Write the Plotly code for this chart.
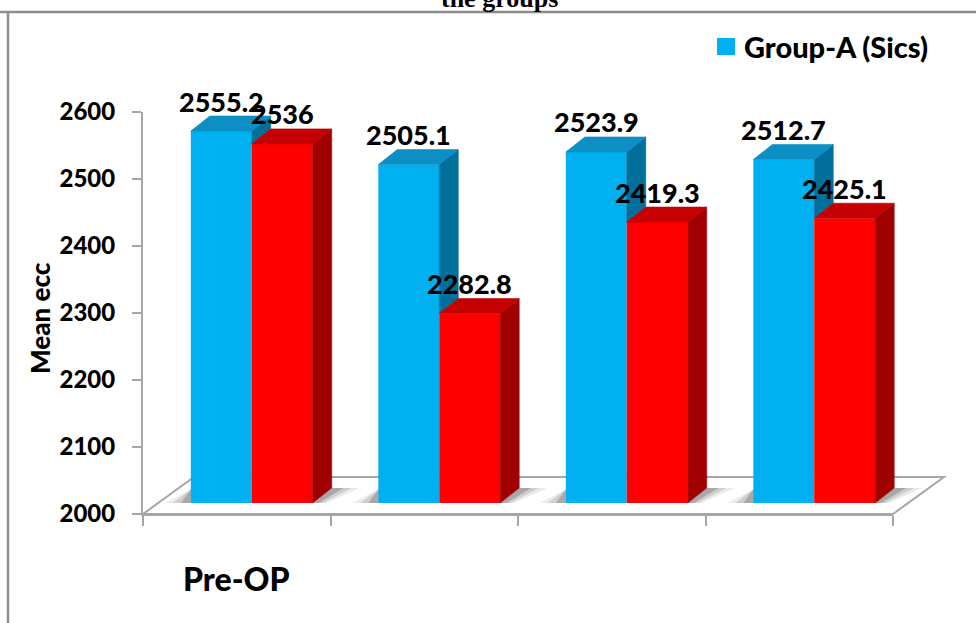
import plotly.graph_objects as go

# ---- data -------------------------------------------------------------
categories = ["Pre-OP", "", "", ""]
group_a = [2555.2, 2505.1, 2523.9, 2512.7]
group_b = [2536.0, 2282.8, 2419.3, 2425.1]
series_names = ["Group-A (Sics)", "Group-B"]
y_ticks = [2000, 2100, 2200, 2300, 2400, 2500, 2600]
title_text = "the groups"
y_title = "Mean ecc"

# ---- palette ----------------------------------------------------------
FACE = {"a": ("#00B0F0", "#0B8FC4", "#006F9C"),   # front, top, side
        "b": ("#FF0000", "#C40000", "#A00000")}
AXIS_GRAY = "#A6A6A6"
FONT = "Lato"
WEIGHT = 900

# ---- page geometry (pixels) -------------------------------------------
W, H = 976, 623
PX_L, PX_R, PX_T, PX_B = 143, 893, 112, 514
Y_MIN, Y_MAX = y_ticks[0], y_ticks[-1]
n = len(categories)
unit_x = (PX_R - PX_L) / n                  # px per category
unit_y = (PX_B - PX_T) / (Y_MAX - Y_MIN)    # px per value unit
SHIFT_X, SHIFT_Y = 15, 11                   # bars sit inside the floor
DEPTH_X, DEPTH_Y = 19, 15                   # bar depth
FLOOR_X, FLOOR_Y = 51, 37                   # floor depth
BAR_TOP_PX = 40
BAR_RIGHT_PX = 970
BARGAP = 0.35
bar_w = (1 - BARGAP) / 2


def fx(px):
    return px / W


def fy(py):
    return 1 - py / H


x2_start = -0.5 - SHIFT_X / unit_x
x2_end = x2_start + (BAR_RIGHT_PX - PX_L) / unit_x
y2_start = Y_MIN - SHIFT_Y / unit_y
y2_end = y2_start + (PX_B - BAR_TOP_PX) / unit_y
dx = DEPTH_X / unit_x
dy = DEPTH_Y / unit_y

fig = go.Figure()

# soft shadows on the floor
for i in range(n):
    xl = i - bar_w
    xr = i + bar_w
    for k, op in enumerate([0.08, 0.12, 0.18]):
        ext = (28 - 8 * k) / unit_x
        fig.add_trace(go.Scatter(
            x=[xr, xr + dx, xr + dx + ext, xr + ext * 0.5, xr],
            y=[Y_MIN, Y_MIN + dy, Y_MIN + dy, Y_MIN, Y_MIN],
            xaxis="x2", yaxis="y2", mode="lines", fill="toself",
            fillcolor=f"rgba(0,0,0,{op})", line=dict(width=0),
            hoverinfo="skip", showlegend=False))
        lext = (26 - 8 * k) / unit_x
        fig.add_trace(go.Scatter(
            x=[xl - lext, xl, xl, xl - lext],
            y=[Y_MIN, Y_MIN, Y_MIN + dy * 0.9, Y_MIN],
            xaxis="x2", yaxis="y2", mode="lines", fill="toself",
            fillcolor=f"rgba(0,0,0,{op})", line=dict(width=0),
            hoverinfo="skip", showlegend=False))

# front faces of the bars
for key, vals, name in (("a", group_a, series_names[0]),
                        ("b", group_b, series_names[1])):
    fig.add_trace(go.Bar(
        x=list(range(n)), y=[v - Y_MIN for v in vals], base=Y_MIN,
        name=name, marker=dict(color=FACE[key][0], line=dict(width=0)),
        xaxis="x2", yaxis="y2", showlegend=False,
        hovertemplate="%{customdata}<extra>" + name + "</extra>",
        customdata=vals))


def poly(xs, ys, color):
    fig.add_trace(go.Scatter(
        x=xs + [xs[0]], y=ys + [ys[0]], xaxis="x2", yaxis="y2",
        mode="lines", fill="toself", fillcolor=color,
        line=dict(width=0.6, color=color), hoverinfo="skip",
        showlegend=False))


# top and side faces, drawn back to front
for i in range(n):
    va, vb = group_a[i], group_b[i]
    # group A (left bar): its side is partly hidden by bar B
    xl, xr = i - bar_w, i
    low = max(Y_MIN, min(va, vb))
    poly([xr, xr, xr + dx, xr + dx], [low, va, va + dy, low + dy], FACE["a"][2])
    poly([xl, xr, xr + dx, xl + dx], [va, va, va + dy, va + dy], FACE["a"][1])
    # group B (right bar)
    xl, xr = i, i + bar_w
    poly([xr, xr, xr + dx, xr + dx], [Y_MIN, vb, vb + dy, Y_MIN + dy], FACE["b"][2])
    poly([xl, xr, xr + dx, xl + dx], [vb, vb, vb + dy, vb + dy], FACE["b"][1])

# ---- value labels -----------------------------------------------------
annotations = []
for vals, off in ((group_a, -bar_w / 2), (group_b, bar_w / 2)):
    for i, v in enumerate(vals):
        annotations.append(dict(
            x=i + off, y=v, xref="x2", yref="y2", yshift=30,
            text=f"{v:g}", showarrow=False, xanchor="center", yanchor="middle",
            font=dict(family=FONT, size=27, color="black", weight=WEIGHT)))

# category labels
for i, c in enumerate(categories):
    if c:
        annotations.append(dict(
            x=i, y=fy(578), xref="x", yref="paper", text=c, showarrow=False,
            xanchor="center", yanchor="middle",
            font=dict(family=FONT, size=32, color="black", weight=WEIGHT)))

# axis title
annotations.append(dict(
    x=fx(40), y=fy(318), xref="paper", yref="paper", text=y_title,
    textangle=-90, showarrow=False, xanchor="center", yanchor="middle",
    font=dict(family=FONT, size=26, color="black", weight=WEIGHT)))

# chart title (top of page)
annotations.append(dict(
    x=fx(499), y=fy(-1), xref="paper", yref="paper", text=title_text,
    showarrow=False, xanchor="center", yanchor="middle",
    font=dict(family="Liberation Serif", size=26, color="black", weight="bold")))

# legend entry
annotations.append(dict(
    x=fx(742), y=fy(47), xref="paper", yref="paper", text=series_names[0],
    showarrow=False, xanchor="left", yanchor="middle",
    font=dict(family=FONT, size=29, color="black", weight=WEIGHT)))

# ---- shapes: frame, floor, legend swatch ------------------------------
shapes = []
floor_pts = [(PX_L, PX_B), (PX_R, PX_B), (PX_R + FLOOR_X, PX_B - FLOOR_Y),
             (PX_L + FLOOR_X, PX_B - FLOOR_Y)]
path = "M " + " L ".join(f"{fx(a):.5f},{fy(b):.5f}" for a, b in floor_pts) + " Z"
shapes.append(dict(type="path", path=path, xref="paper", yref="paper",
                   fillcolor="white", line=dict(color=AXIS_GRAY, width=2),
                   layer="below"))
shapes.append(dict(type="line", xref="paper", yref="paper",
                   x0=fx(0), x1=fx(W), y0=fy(12), y1=fy(12),
                   line=dict(color="#8C8C8C", width=2.5)))
shapes.append(dict(type="line", xref="paper", yref="paper",
                   x0=fx(8), x1=fx(8), y0=fy(12), y1=fy(H),
                   line=dict(color="#8C8C8C", width=2.5)))
shapes.append(dict(type="rect", xref="paper", yref="paper",
                   x0=fx(717), x1=fx(735), y0=fy(55), y1=fy(38),
                   fillcolor=FACE["a"][0], line=dict(width=0)))

fig.update_layout(
    width=W, height=H,
    margin=dict(l=0, r=0, t=0, b=0),
    paper_bgcolor="white", plot_bgcolor="rgba(0,0,0,0)",
    barmode="group", bargap=BARGAP, bargroupgap=0,
    showlegend=False,
    xaxis=dict(domain=[fx(PX_L), fx(PX_R)], range=[-0.5, n - 0.5],
               anchor="y", tickmode="array",
               tickvals=[k - 0.5 for k in range(n + 1)],
               showticklabels=False, ticks="outside", ticklen=10,
               tickwidth=2, tickcolor=AXIS_GRAY, showline=True,
               linecolor=AXIS_GRAY, linewidth=2, showgrid=False,
               zeroline=False, fixedrange=True, automargin=False),
    yaxis=dict(domain=[fy(PX_B), fy(PX_T)], range=[Y_MIN, Y_MAX],
               anchor="x", tickmode="array", tickvals=y_ticks,
               ticks="outside", ticklen=9, tickwidth=2, tickcolor=AXIS_GRAY,
               ticklabelstandoff=12,
               tickfont=dict(family=FONT, size=24, color="black", weight=WEIGHT),
               showline=True, linecolor=AXIS_GRAY, linewidth=2,
               showgrid=False, zeroline=False, fixedrange=True,
               automargin=False),
    xaxis2=dict(domain=[fx(PX_L), fx(BAR_RIGHT_PX)], range=[x2_start, x2_end],
                anchor="y2", visible=False, fixedrange=True),
    yaxis2=dict(domain=[fy(PX_B), fy(BAR_TOP_PX)], range=[y2_start, y2_end],
                anchor="x2", visible=False, fixedrange=True),
    annotations=annotations,
    shapes=shapes,
)

fig.write_html("out.html")
